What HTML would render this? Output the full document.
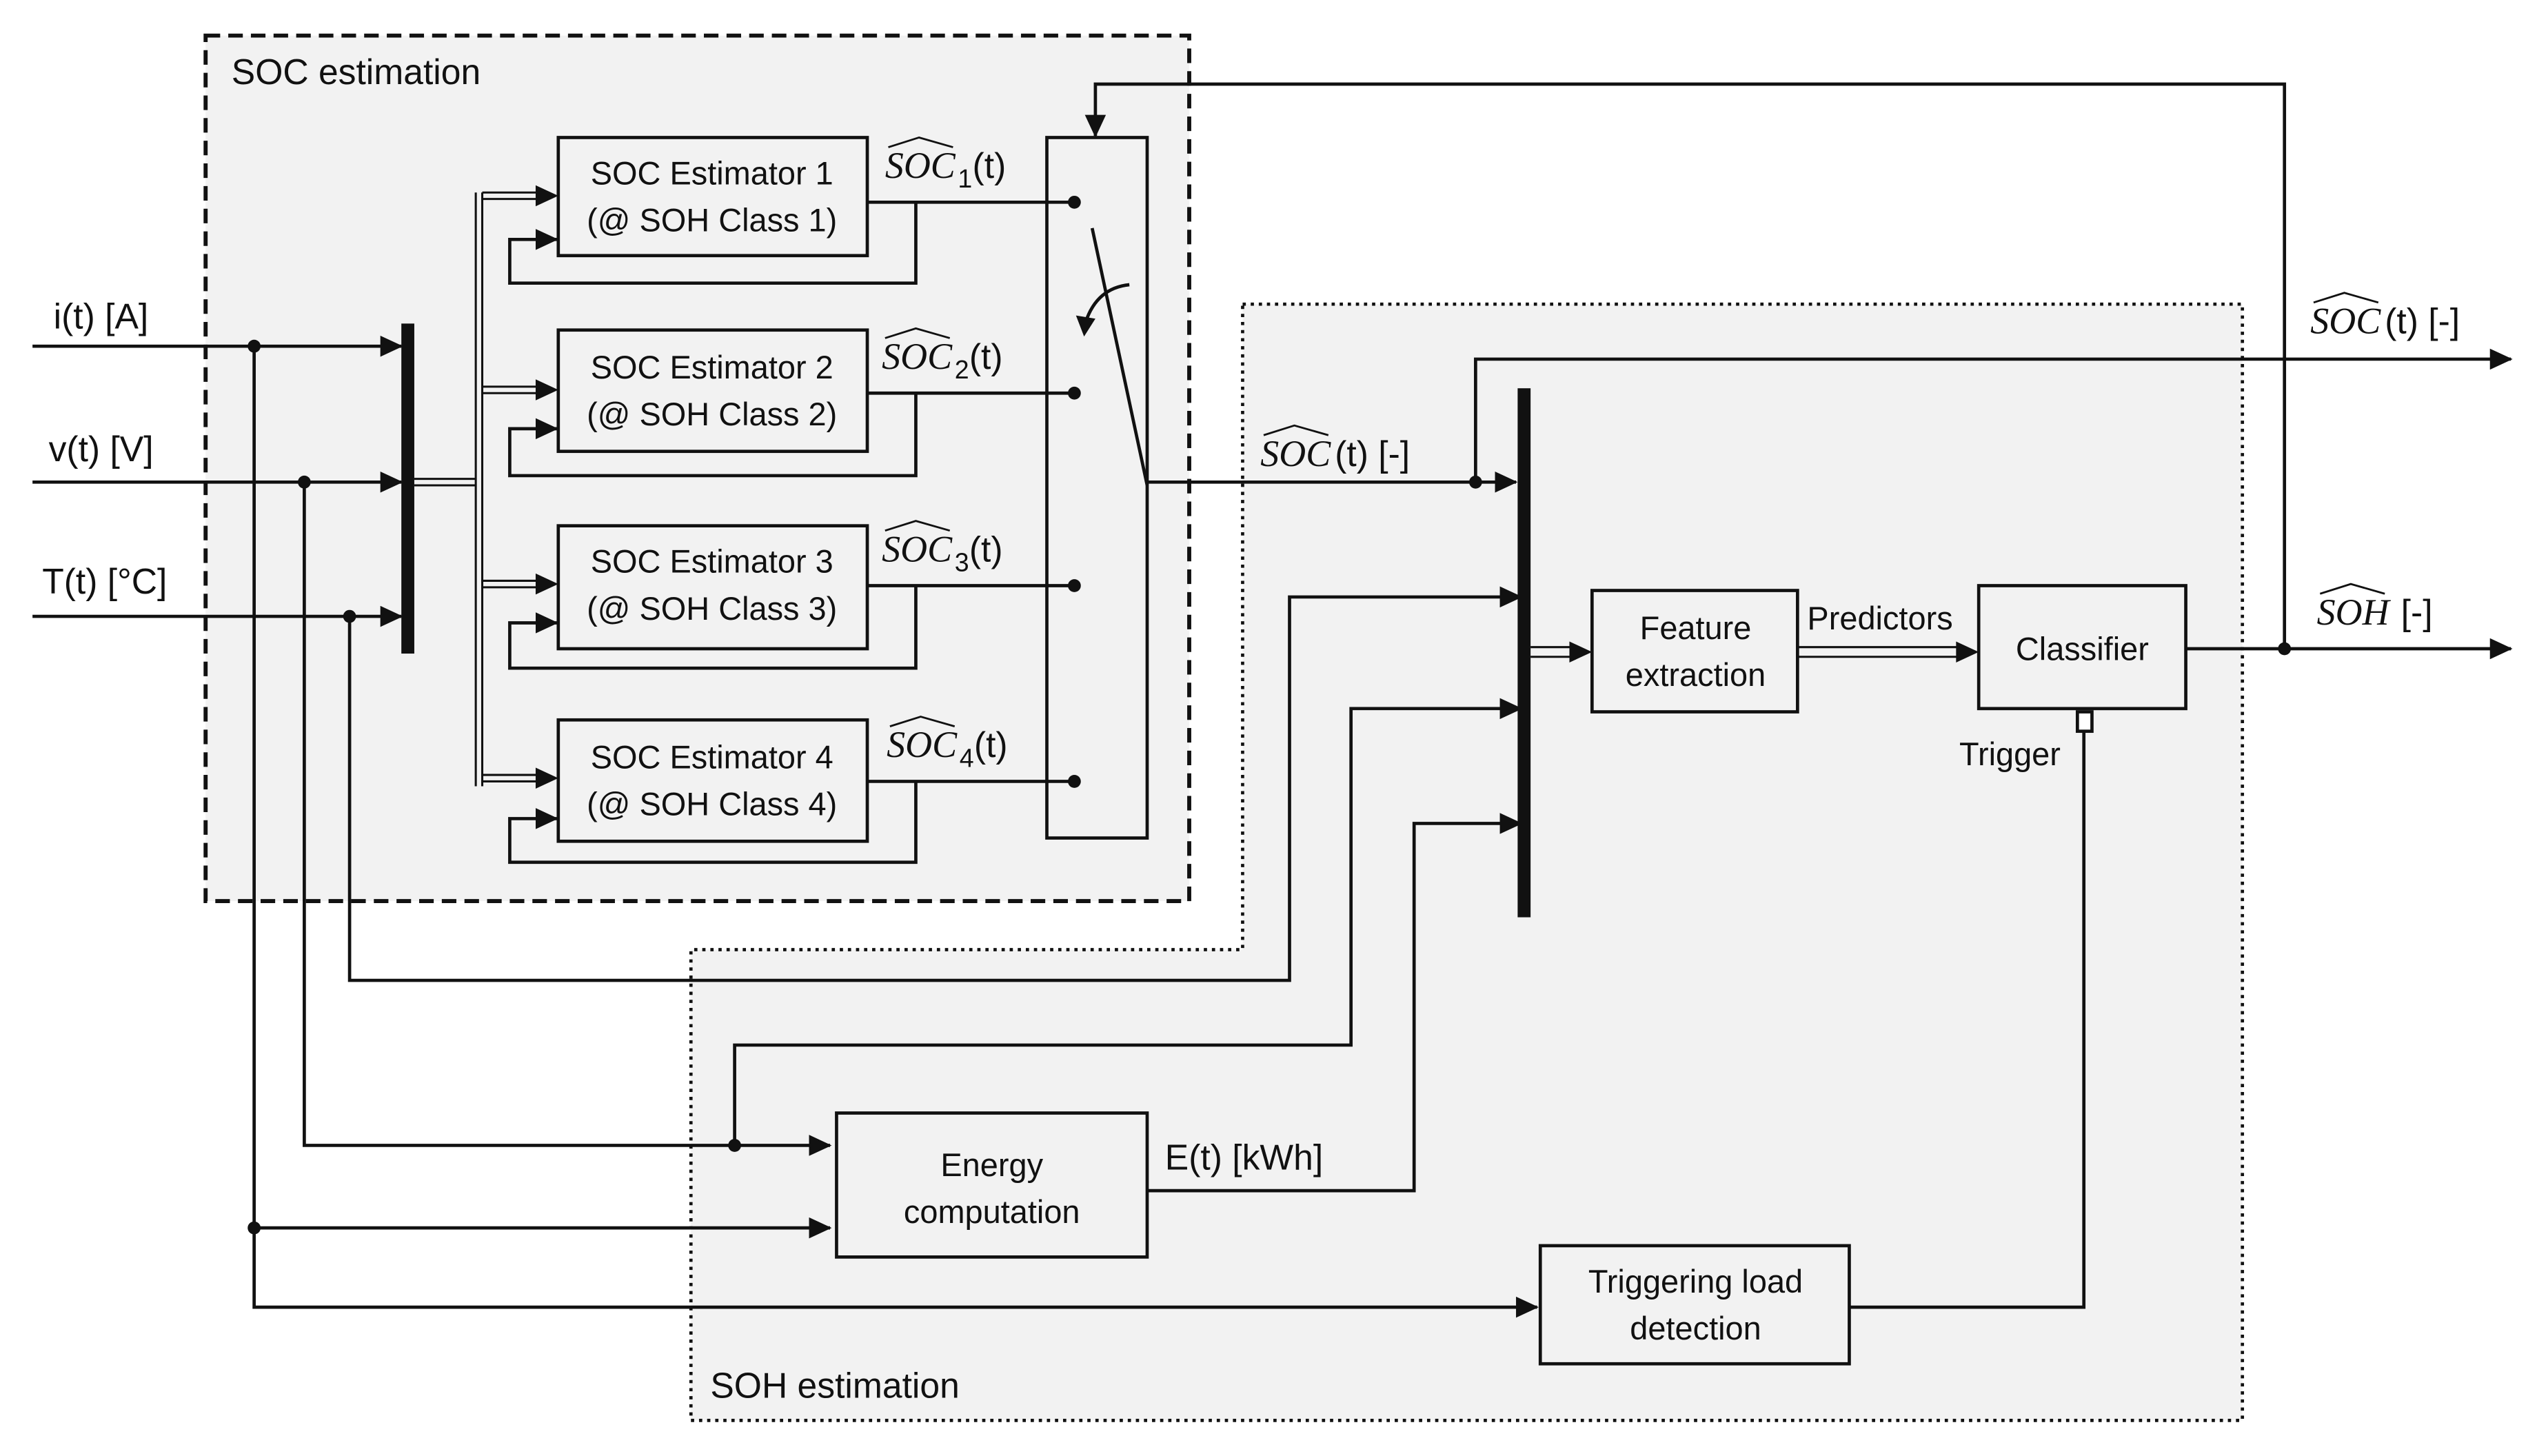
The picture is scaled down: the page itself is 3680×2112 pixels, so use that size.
<!DOCTYPE html>
<html><head><meta charset="utf-8"><style>
html,body{margin:0;padding:0;background:#fff}
svg{display:block}
text{font-family:"Liberation Sans","DejaVu Sans",sans-serif;font-size:20px;fill:#111}
.it{font-family:"Liberation Serif",serif;font-style:italic;font-size:23px}
</style></head><body>
<svg width="3680" height="2112" viewBox="0 0 1568 900" xmlns="http://www.w3.org/2000/svg">
<defs>
<marker id="a" markerWidth="14" markerHeight="13" refX="13" refY="6.5" orient="auto" markerUnits="userSpaceOnUse"><path d="M0,0 L14,6.5 L0,13 z" fill="#111"/></marker>
</defs>
<rect width="1568" height="900" fill="#fff"/>
<rect x="127" y="22" width="608" height="535" fill="#f2f2f2" stroke="#111" stroke-width="2.5" stroke-dasharray="9,5"/>
<path d="M768,188 H1386 V878 H427 V587 H768 Z" fill="#f2f2f2" stroke="#111" stroke-width="2" stroke-dasharray="2,3"/>
<text x="143" y="52" style="font-size:22px">SOC estimation</text>
<text x="439" y="864" style="font-size:22px">SOH estimation</text>

<g fill="none" stroke="#111" stroke-width="2">
<line x1="20" y1="214" x2="248" y2="214" marker-end="url(#a)"/>
<line x1="20" y1="298" x2="248" y2="298" marker-end="url(#a)"/>
<line x1="20" y1="381" x2="248" y2="381" marker-end="url(#a)"/>
<rect x="345" y="85" width="191" height="73" fill="#f2f2f2"/>
<rect x="345" y="204" width="191" height="75" fill="#f2f2f2"/>
<rect x="345" y="325" width="191" height="76" fill="#f2f2f2"/>
<rect x="345" y="445" width="191" height="75" fill="#f2f2f2"/>
</g>
<g fill="none" stroke="#111" stroke-width="1.3">
<path d="M256,296 H294 M256,300 H294 M294,119 V486 M298,119 V486 M298,119 H335 M298,123 H335 M298,239 H335 M298,243 H335 M298,359 H335 M298,363 H335 M298,479 H335 M298,483 H335"/>
<path d="M946,400 H975 M946,406 H975 M1111,400 H1214 M1111,406 H1214"/>
</g>
<g fill="#111">
<path d="M331,114.5 L345,121 L331,127.5z"/><path d="M331,234.5 L345,241 L331,247.5z"/>
<path d="M331,354.5 L345,361 L331,367.5z"/><path d="M331,474.5 L345,481 L331,487.5z"/>
<path d="M970,396.5 L984,403 L970,409.5z"/><path d="M1209,396.5 L1223,403 L1209,409.5z"/>
</g>
<g fill="none" stroke="#111" stroke-width="2">
<path d="M566,125 V175 H315 V148 H344" marker-end="url(#a)"/>
<path d="M566,243 V294 H315 V265 H344" marker-end="url(#a)"/>
<path d="M566,362 V413 H315 V385 H344" marker-end="url(#a)"/>
<path d="M566,483 V533 H315 V506 H344" marker-end="url(#a)"/>
<line x1="536" y1="125" x2="664" y2="125"/>
<line x1="536" y1="243" x2="664" y2="243"/>
<line x1="536" y1="362" x2="664" y2="362"/>
<line x1="536" y1="483" x2="664" y2="483"/>
<rect x="647" y="85" width="62" height="433"/>
<line x1="675" y1="141" x2="709" y2="300"/>
<path d="M698,176 Q678,178 671,199"/>
<path d="M709,298 H937" marker-end="url(#a)"/>
<path d="M1412,401 V52 H677 V84" marker-end="url(#a)"/>
<path d="M912,298 V222 H1552" marker-end="url(#a)"/>
<path d="M216,381 V606 H797 V369 H940" marker-end="url(#a)"/>
<path d="M454,708 V646 H835 V438 H940" marker-end="url(#a)"/>
<path d="M709,736 H874 V509 H940" marker-end="url(#a)"/>
<rect x="984" y="365" width="127" height="75"/>
<rect x="1223" y="362" width="128" height="76"/>
<path d="M1351,401 H1552" marker-end="url(#a)"/>
<rect x="1284" y="440" width="9" height="12" fill="#fff"/>
<path d="M1288,452 V808 H1143"/>
<rect x="517" y="688" width="192" height="89"/>
<rect x="952" y="770" width="191" height="73"/>
<path d="M188,298 V708 H513" marker-end="url(#a)"/>
<path d="M157,214 V808 H950" marker-end="url(#a)"/>
<path d="M157,759 H513" marker-end="url(#a)"/>
</g>
<rect x="248" y="200" width="8" height="204" fill="#111"/>
<rect x="938" y="240" width="8" height="327" fill="#111"/>
<g fill="#111">
<circle cx="157" cy="214" r="4"/><circle cx="188" cy="298" r="4"/><circle cx="216" cy="381" r="4"/>
<circle cx="664" cy="125" r="4"/><circle cx="664" cy="243" r="4"/><circle cx="664" cy="362" r="4"/><circle cx="664" cy="483" r="4"/>
<circle cx="912" cy="298" r="4"/><circle cx="1412" cy="401" r="4"/><circle cx="454" cy="708" r="4"/><circle cx="157" cy="759" r="4"/>
<path d="M665,195 L677,197 L670,208 z"/>
</g>
<text x="33" y="203" style="font-size:22px">i(t) [A]</text>
<text x="30" y="285" style="font-size:22px">v(t) [V]</text>
<text x="26" y="367" style="font-size:22px">T(t) [°C]</text>
<g text-anchor="middle">
<text x="440" y="114">SOC Estimator 1</text><text x="440" y="143">(@ SOH Class 1)</text>
<text x="440" y="234">SOC Estimator 2</text><text x="440" y="263">(@ SOH Class 2)</text>
<text x="440" y="354">SOC Estimator 3</text><text x="440" y="383">(@ SOH Class 3)</text>
<text x="440" y="475">SOC Estimator 4</text><text x="440" y="504">(@ SOH Class 4)</text>
<text x="1048" y="395">Feature</text><text x="1048" y="424">extraction</text>
<text x="1287" y="408">Classifier</text>
<text x="613" y="727">Energy</text><text x="613" y="756">computation</text>
<text x="1048" y="799">Triggering load</text><text x="1048" y="828">detection</text>
</g>
<text x="1117" y="389">Predictors</text>
<text x="1211" y="473">Trigger</text>
<text x="720" y="723" style="font-size:22px">E(t) [kWh]</text>
<g>
<text x="547" y="110" class="it">SOC</text><text x="592" y="116" style="font-size:16px">1</text><text x="601" y="110" style="font-size:22px">(t)</text>
<text x="545" y="228" class="it">SOC</text><text x="590" y="234" style="font-size:16px">2</text><text x="599" y="228" style="font-size:22px">(t)</text>
<text x="545" y="347" class="it">SOC</text><text x="590" y="353" style="font-size:16px">3</text><text x="599" y="347" style="font-size:22px">(t)</text>
<text x="548" y="468" class="it">SOC</text><text x="593" y="474" style="font-size:16px">4</text><text x="602" y="468" style="font-size:22px">(t)</text>
<text x="779" y="288" class="it">SOC</text><text x="825" y="288" style="font-size:22px">(t) [-]</text>
<text x="1428" y="206" class="it">SOC</text><text x="1474" y="206" style="font-size:22px">(t) [-]</text>
<text x="1432" y="386" class="it">SOH</text><text x="1484" y="386" style="font-size:22px">[-]</text>
</g>
<g fill="none" stroke="#111" stroke-width="1.2">
<path d="M549,91 L568,85 L589,91"/>
<path d="M547,209 L566,203 L587,209"/>
<path d="M547,328 L566,322 L587,328"/>
<path d="M550,449 L569,443 L590,449"/>
<path d="M781,269 L800,263 L821,269"/>
<path d="M1430,187 L1449,181 L1470,187"/>
<path d="M1434,367 L1453,361 L1474,367"/>
</g>
</svg>
</body></html>
